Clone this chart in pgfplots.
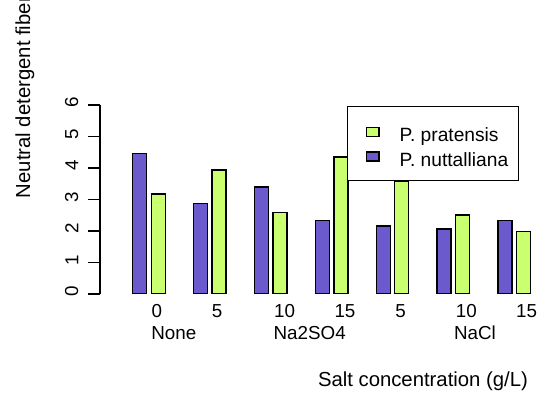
\documentclass[border=0pt]{standalone}
\usepackage{pgfplots}
\pgfplotsset{compat=1.18}
\usepackage{pgfplotstable}
\usepackage{fontspec}
\setmainfont{Liberation Sans}

\definecolor{nutt}{RGB}{106,90,205}
\definecolor{prat}{RGB}{202,255,112}

% Neutral detergent fibre by salt treatment (groups 1..7)
\pgfplotstableread{
grp nutt prat
1 4.46 3.17
2 2.87 3.94
3 3.40 2.58
4 2.34 4.35
5 2.16 3.57
6 2.06 2.51
7 2.33 1.98
}\ndf

\newcommand{\tickfont}{\fontsize{9.4}{11}\selectfont}
\newcommand{\labfont}{\fontsize{10.15}{12}\selectfont}

\begin{document}
\begin{tikzpicture}
\path[use as bounding box, clip] (0,0) rectangle (274pt,198pt);
\begin{axis}[
  at={(50pt,51pt)}, anchor=south west,
  scale only axis, width=220pt, height=94.5pt,
  xmin=0.1951, xmax=7.4225, ymin=0, ymax=6,
  axis lines*=left,
  x axis line style={draw=none},
  y axis line style={line width=0.7pt},
  tick align=outside,
  major tick length=6pt,
  ytick={0,1,...,6},
  ytick style={line width=0.7pt, black},
  yticklabel={\pgfmathprintnumber[assume math mode=true]{\tick}},
  yticklabel style={rotate=90, anchor=south, inner sep=0pt, xshift=1.2pt, yshift=4.65pt, font=\tickfont},
  xtick={1.131,2.120,3.226,4.219,5.131,6.212,7.204},
  xticklabels={0,5,10,15,5,10,15},
  xtick style={draw=none},
  xticklabel style={anchor=north, inner sep=0pt, yshift=1pt, font=\tickfont},
  extra x ticks={1.407,3.640,6.355},
  extra x tick labels={None,Na2SO4,NaCl},
  extra x tick style={xtick style={draw=none}, xticklabel style={yshift=-10.85pt}},
  every axis x label/.style={at={(axis description cs:0.734,-0.492)}, anchor=base, font=\labfont},
  every axis y label/.style={at={(axis description cs:-0.159,0.505)}, anchor=base west, inner sep=0pt, rotate=90, font=\labfont},
  xlabel={Salt concentration (g/L)},
  ylabel={Neutral detergent fiber (\%)},
  ybar, bar width=0.23,
  legend style={at={(axis description cs:0.5607,0.9963)}, anchor=north west,
    draw=black, line width=0.7pt, fill=white,
    inner xsep=5pt, inner ysep=4.6pt, row sep=-3.25pt, column sep=0pt,
    nodes={inner sep=0pt}, cells={anchor=base west},
    font=\fontsize{9.6}{11}\selectfont},
  legend image code/.code={%
    \path (-4.15pt,-2.1pt) (0pt,12.75pt);
    \draw[#1, line width=0.7pt] (0pt,2.62pt) rectangle (6.3pt,7.18pt);},
  reverse legend,
]
\addplot[fill=nutt, draw=black, line width=0.7pt, bar shift=-0.152] table[x=grp, y=nutt] {\ndf};
\addlegendentry{\hspace{10pt}P. nuttalliana}
\addplot[fill=prat, draw=black, line width=0.7pt, bar shift=0.152] table[x=grp, y=prat] {\ndf};
\addlegendentry{\hspace{10pt}P. pratensis}
\end{axis}
\end{tikzpicture}
\end{document}
